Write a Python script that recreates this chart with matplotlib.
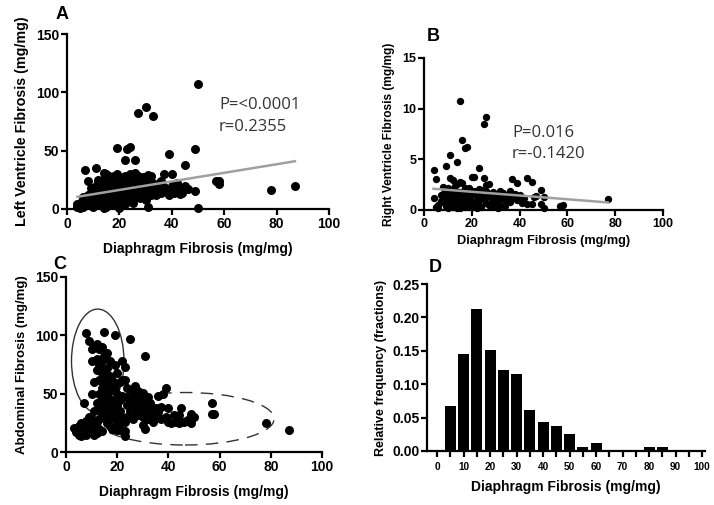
import matplotlib
matplotlib.use("Agg")
import numpy as np
import matplotlib.pyplot as plt
from matplotlib.patches import Ellipse

plt.rcParams['font.family'] = ['Liberation Sans', 'DejaVu Sans']

# ---- panel A : diaphragm vs left ventricle fibrosis
a_x = [4, 4, 5, 5, 6, 6, 7, 7, 7, 6, 5,
       8, 8, 8, 9, 9, 9, 10, 10, 10, 10, 11, 11, 11, 11, 11, 12, 12, 12, 12, 9, 10, 12, 8, 11,
       13, 13, 13, 13, 13, 14, 14, 14, 14, 14, 14, 15, 15, 15, 15, 15, 15, 16, 16, 16, 16, 16,
       17, 17, 17, 17, 17, 13, 14, 15, 16, 17, 16, 15, 14,
       18, 18, 18, 18, 19, 19, 19, 19, 20, 20, 20, 20, 21, 21, 21, 22, 22, 22, 22, 18, 20, 21, 19, 22, 20,
       23, 23, 23, 24, 24, 24, 24, 25, 25, 25, 26, 26, 26, 27, 27, 27, 23, 26, 25, 27,
       28, 28, 29, 29, 30, 30, 30, 30, 31, 31, 31, 32, 32, 32, 29, 28, 31, 32, 30,
       33, 33, 34, 34, 35, 35, 36, 36, 37, 37,
       38, 39, 39, 40, 40, 41, 42,
       43, 44, 45, 45, 46, 43,
       50, 49, 49, 50,
       57, 58, 58, 78, 87]
a_y = [2, 4, 3, 5, 2, 6, 4, 8, 33, 10, 1,
       24, 5, 12, 3, 8, 14, 6, 10, 18, 2, 35, 4, 12, 20, 8, 15, 22, 5, 10, 18, 14, 25, 9, 16,
       3, 8, 12, 18, 24, 31, 5, 10, 15, 20, 26, 2, 7, 12, 17, 22, 26, 4, 9, 14, 19, 24,
       6, 11, 16, 21, 26, 15, 1, 30, 28, 3, 17, 9, 22,
       5, 10, 15, 22, 52, 30, 8, 18, 3, 12, 20, 26, 6, 14, 24, 42, 9, 17, 28, 28, 1, 19, 13, 4, 7,
       51, 12, 20, 53, 8, 18, 30, 15, 25, 5, 42, 12, 20, 82, 28, 10, 26, 31, 22, 17,
       14, 22, 10, 18, 87, 26, 15, 8, 2, 20, 29, 12, 18, 24, 27, 9, 15, 28, 21,
       80, 15, 20, 12, 22, 17, 14, 24, 30, 19,
       16, 47, 12, 30, 20, 14, 22,
       18, 14, 38, 20, 17, 13,
       107, 51, 15, 1,
       24, 24, 21, 16, 20]
a_fit = (0.367, 9.0)          # slope, intercept of drawn regression line
a_fit_range = (4, 87)

# ---- panel B : diaphragm vs right ventricle fibrosis
b_x = [4, 5, 4, 6, 7, 7, 6, 5,
       8, 8, 9, 9, 9, 10, 10, 10, 11, 11, 11, 11, 12, 12, 12, 12, 8, 10,
       13, 13, 13, 14, 14, 14, 14, 15, 15, 15, 15, 16, 16, 16, 16, 17, 17, 17, 17,
       13, 14, 15, 16, 17, 15, 14,
       18, 18, 18, 19, 19, 19, 20, 20, 20, 21, 21, 21, 22, 22, 22, 18, 20,
       23, 23, 23, 24, 24, 25, 25, 25, 26, 26, 26, 27, 27, 23, 24, 26, 27,
       28, 28, 29, 29, 30, 30, 31, 31, 32, 32, 30, 29, 32, 31,
       33, 34, 34, 35, 36, 36, 37, 37,
       38, 39, 39, 40, 41, 42,
       43, 43, 45, 45, 46, 47,
       49, 49, 50, 50,
       57, 58, 77]
b_y = [3.9, 3.1, 1.2, 0.5, 0.9, 1.5, 0.2, 0.3,
       2.3, 0.8, 4.3, 1.3, 0.4, 2.2, 1.0, 0.2, 5.4, 3.2, 1.6, 0.6, 3.0, 2.1, 1.1, 0.3, 1.6, 1.8,
       2.4, 1.4, 0.5, 4.7, 2.6, 1.2, 0.2, 10.8, 2.8, 1.8, 0.8, 6.9, 2.7, 1.5, 0.5, 6.1, 2.2, 1.0, 0.3,
       1.9, 0.8, 1.3, 1.0, 1.6, 0.2, 1.7,
       6.2, 1.7, 0.6, 2.2, 1.2, 0.3, 3.3, 1.5, 0.8, 3.3, 1.9, 0.4, 1.0, 1.6, 0.2, 1.1, 0.3,
       4.1, 2.1, 0.9, 1.5, 0.3, 8.5, 3.2, 1.2, 9.2, 2.5, 0.7, 2.6, 1.6, 0.4, 2.0, 1.9, 0.5,
       1.2, 0.5, 1.8, 1.0, 1.6, 0.3, 1.4, 0.8, 1.9, 1.2, 0.9, 0.4, 0.5, 0.2,
       1.7, 1.0, 0.4, 1.5, 1.9, 0.8, 3.1, 1.2,
       1.6, 2.7, 1.0, 1.5, 0.7, 1.2,
       3.2, 0.6, 2.8, 0.6, 1.3, 1.4,
       2.0, 0.6, 1.3, 0.2,
       0.4, 0.5, 1.1]
b_fit = (-0.0185, 2.17)
b_fit_range = (4, 77)

# ---- panel C : diaphragm vs abdominal fibrosis
c_x = [3, 4, 5, 5, 6, 6, 7, 7, 4, 6, 7,
       8, 8, 8, 9, 9, 9, 10, 10, 10, 10, 11, 11, 11, 11, 12, 12, 12, 12, 12, 9, 11, 10, 8, 12,
       13, 13, 13, 13, 13, 13, 14, 14, 14, 14, 14, 14, 15, 15, 15, 15, 15, 15, 16, 16, 16, 16, 16,
       17, 17, 17, 17, 17, 13, 14, 15, 16, 17, 16, 15,
       18, 18, 18, 18, 19, 19, 19, 19, 20, 20, 20, 20, 21, 21, 21, 22, 22, 22, 22, 18, 19, 20, 21, 22, 20,
       23, 23, 23, 24, 24, 24, 25, 25, 25, 26, 26, 26, 27, 27, 23, 24, 25, 26, 27, 23,
       28, 28, 29, 29, 30, 30, 30, 31, 31, 31, 31, 32, 32, 28, 29, 30, 32, 31, 29,
       33, 33, 34, 34, 35, 35, 36, 37, 37, 36,
       38, 39, 39, 40, 40, 41, 42,
       43, 44, 45, 46, 47, 44,
       49, 49, 50, 48,
       57, 57, 58, 78, 87]
c_y = [21, 17, 15, 22, 18, 14, 42, 16, 20, 25, 20,
       102, 20, 15, 95, 24, 17, 78, 28, 18, 88, 15, 22, 35, 60, 93, 80, 70, 26, 42, 30, 90, 50, 27, 16,
       88, 75, 62, 50, 38, 28, 90, 68, 55, 45, 33, 18, 103, 82, 65, 58, 40, 30, 72, 60, 48, 36, 25,
       78, 65, 52, 42, 30, 20, 78, 48, 85, 22, 55, 70,
       62, 45, 35, 20, 100, 75, 55, 28, 68, 50, 40, 22, 60, 35, 25, 78, 48, 30, 18, 58, 40, 32, 45, 62, 19,
       73, 14, 18, 40, 55, 30, 97, 48, 35, 52, 44, 28, 57, 38, 62, 47, 42, 36, 48, 26,
       52, 40, 44, 35, 51, 38, 23, 82, 42, 32, 20, 47, 36, 32, 40, 30, 28, 38, 48,
       42, 30, 36, 26, 38, 32, 34, 39, 28, 48,
       50, 55, 30, 38, 26, 25, 32,
       26, 32, 38, 26, 27, 25,
       25, 33, 30, 28,
       42, 33, 33, 25, 19]
# hand drawn ellipses on panel C: (x centre, y centre, width, height, linestyle)
c_ellipses = [(12.4, 78, 20.5, 89, '-'),
              (46.5, 28.5, 69.6, 45, (0, (9, 6)))]

# ---- panel D : histogram of diaphragm fibrosis
d_bins = [5, 10, 15, 20, 25, 30, 35, 40, 45, 50, 55, 60, 65, 70, 75, 80, 85]
d_freq = [0.067, 0.145, 0.212, 0.151, 0.121, 0.115, 0.061, 0.043, 0.037, 0.025,
          0.006, 0.012, 0, 0, 0, 0.006, 0.006]

xlab = 'Diaphragm Fibrosis (mg/mg)'
W, H = 714, 505


def prism_axes(rect, lw=1.6):
    l, t, r, b = rect
    ax = fig.add_axes([l / W, 1 - b / H, (r - l) / W, (b - t) / H])
    for s in ['top', 'right']:
        ax.spines[s].set_visible(False)
    for s in ['left', 'bottom']:
        ax.spines[s].set_linewidth(lw)
    ax.tick_params(width=lw, length=4, pad=1.5)
    return ax


def bold_ticks(ax, size=9):
    for lab in ax.get_xticklabels() + ax.get_yticklabels():
        lab.set_fontweight('bold')
        lab.set_fontsize(size)


fig = plt.figure(figsize=(W / 100, H / 100), dpi=100)

# A
ax = prism_axes((67, 34, 329, 209))
ax.scatter(a_x, a_y, s=42, c='black', linewidths=0, clip_on=False, zorder=3)
xx = np.array(a_fit_range)
ax.plot(xx, a_fit[0] * xx + a_fit[1], color='#a0a0a0', lw=1.8, zorder=4)
ax.set_xlim(0, 100)
ax.set_ylim(0, 150)
ax.set_xticks([0, 20, 40, 60, 80, 100])
ax.set_yticks([0, 50, 100, 150])
bold_ticks(ax, 10)
ax.set_xlabel(xlab, fontsize=10, fontweight='bold', labelpad=8)
ax.set_ylabel('Left Ventricle Fibrosis (mg/mg)', fontsize=10.3, fontweight='bold', labelpad=5)
ax.text(58, 89, 'P=<0.0001', fontsize=12, family='Open Sans', color='#333333', va='center')
ax.text(58, 70, 'r=0.2355', fontsize=12, family='Open Sans', color='#333333', va='center')
ax.text(-4.5, 163, 'A', fontsize=13, fontweight='bold')

# B
ax = prism_axes((424, 58, 663, 210))
ax.scatter(b_x, b_y, s=28, c='black', linewidths=0, clip_on=False, zorder=3)
xx = np.array(b_fit_range)
ax.plot(xx, b_fit[0] * xx + b_fit[1], color='#a0a0a0', lw=1.8, zorder=4)
ax.set_xlim(0, 100)
ax.set_ylim(0, 15)
ax.set_xticks([0, 20, 40, 60, 80, 100])
ax.set_yticks([0, 5, 10, 15])
bold_ticks(ax, 9)
ax.set_xlabel(xlab, fontsize=9.2, fontweight='bold', labelpad=4)
ax.set_ylabel('Right Ventricle Fibrosis (mg/mg)', fontsize=8.6, fontweight='bold', labelpad=5)
ax.text(36.8, 7.6, 'P=0.016', fontsize=12, family='Open Sans', color='#333333', va='center')
ax.text(36.8, 5.5, 'r=-0.1420', fontsize=12, family='Open Sans', color='#333333', va='center')
ax.text(1, 16.7, 'B', fontsize=13, fontweight='bold')

# C
ax = prism_axes((66, 277, 322, 452))
ax.scatter(c_x, c_y, s=42, c='black', linewidths=0, clip_on=False, zorder=3)
for cx, cy, w, h, ls in c_ellipses:
    ax.add_patch(Ellipse((cx, cy), w, h, fill=False, ec='#333333', lw=1.0, ls=ls, zorder=2))
ax.set_xlim(0, 100)
ax.set_ylim(0, 150)
ax.set_xticks([0, 20, 40, 60, 80, 100])
ax.set_yticks([0, 50, 100, 150])
bold_ticks(ax, 10)
ax.set_xlabel(xlab, fontsize=10, fontweight='bold', labelpad=8)
ax.set_ylabel('Abdominal Fibrosis (mg/mg)', fontsize=9.5, fontweight='bold', labelpad=5)
ax.text(-5, 157, 'C', fontsize=13, fontweight='bold')

# D
ax = prism_axes((427, 284, 705, 451))
ax.bar(d_bins, d_freq, width=4.2, color='black', zorder=3)
ax.set_xlim(-3.8, 101.1)
ax.set_ylim(0, 0.25)
ax.set_xticks(np.arange(0, 101, 5))
ax.set_xticklabels([str(v) if v % 10 == 0 else '' for v in range(0, 101, 5)])
ax.set_yticks([0, 0.05, 0.10, 0.15, 0.20, 0.25])
ax.set_yticklabels(['0.00', '0.05', '0.10', '0.15', '0.20', '0.25'])
bold_ticks(ax, 10)
for lab in ax.get_xticklabels():
    lab.set_fontsize(7.2)
ax.tick_params(axis='x', pad=4)
ax.set_xlabel(xlab, fontsize=10, fontweight='bold', labelpad=6)
ax.set_ylabel('Relative frequency (fractions)', fontsize=9, fontweight='bold', labelpad=4)
ax.text(-3, 0.268, 'D', fontsize=13, fontweight='bold')

fig.savefig('out.png', dpi=100)
